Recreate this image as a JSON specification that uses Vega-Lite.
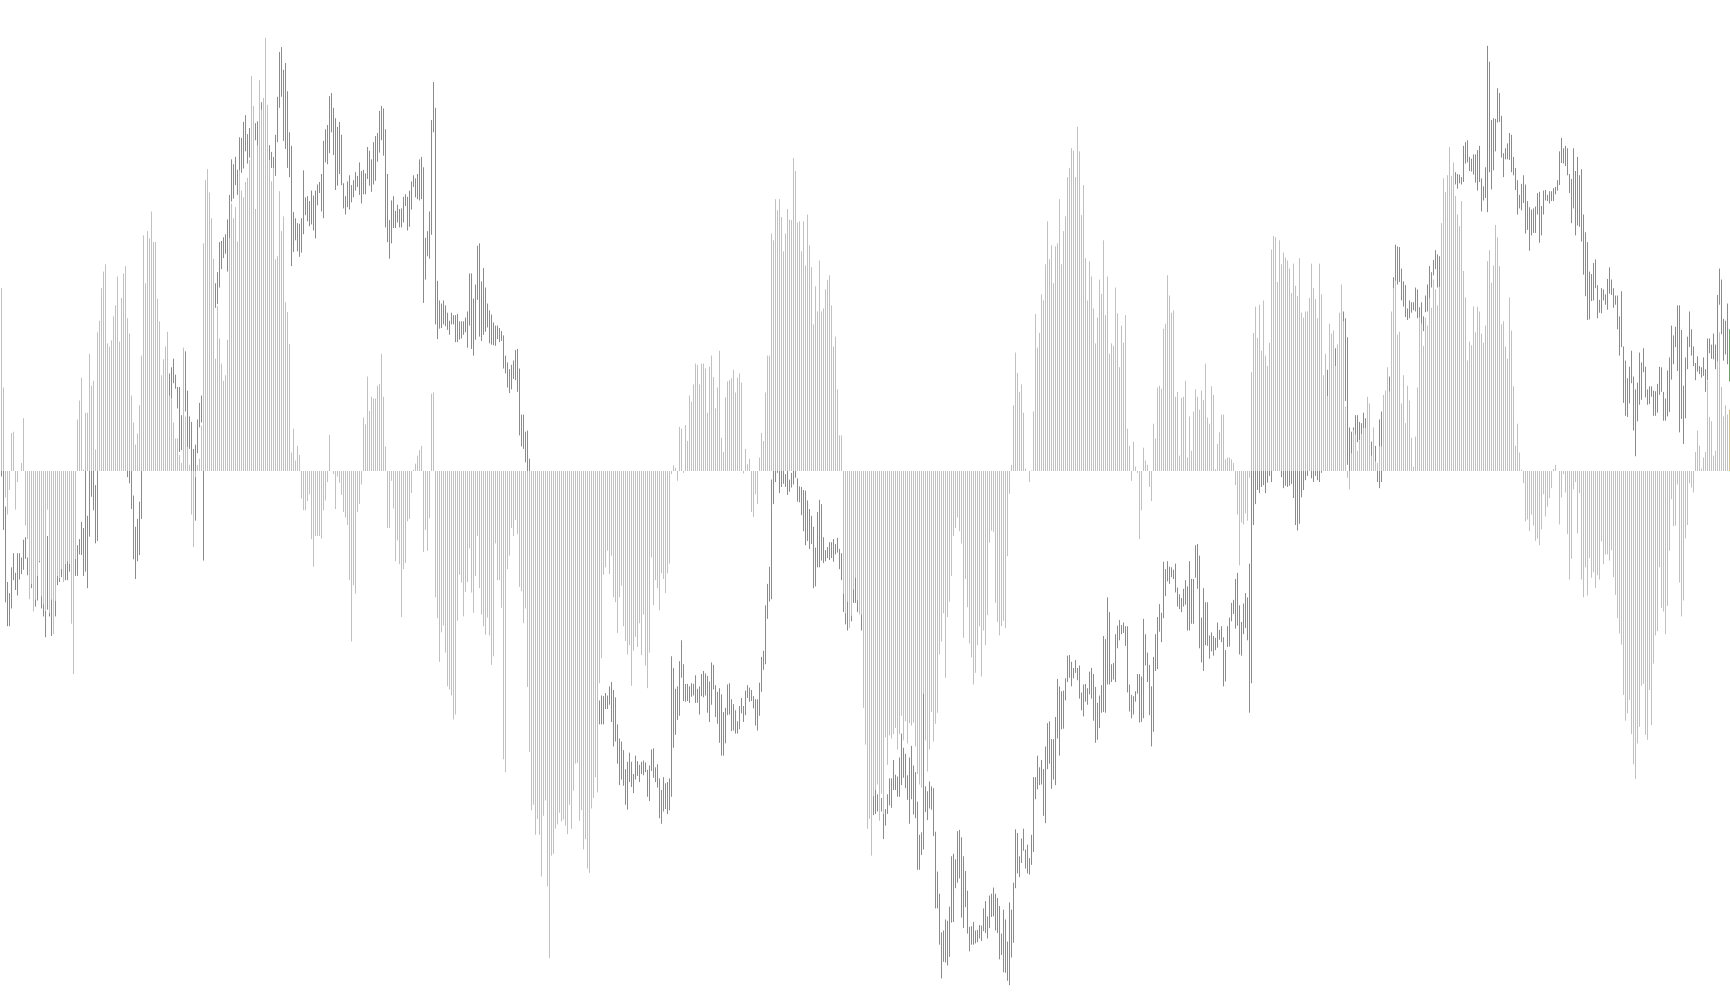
{"$schema":"https://vega.github.io/schema/vega-lite/v6.json","width":1730,"height":1005,"padding":0,"autosize":{"type":"none"},"background":"white","config":{"view":{"stroke":null}},
"data":{"values":[
{"i":0,"h":0,"l":-9,"v":298},{"i":1,"h":0,"l":-96,"v":136},{"i":2,"h":-58,"l":-214,"v":-43},{"i":3,"h":-181,"l":-253,"v":-71},{"i":4,"h":-199,"l":-253,"v":-31},{"i":5,"h":-157,"l":-224,"v":62},{"i":6,"h":-134,"l":-178,"v":64},{"i":7,"h":-166,"l":-194,"v":-63},{"i":8,"h":-134,"l":-203,"v":-18},{"i":9,"h":-134,"l":-177,"v":0},
{"i":10,"h":-141,"l":-168,"v":13},{"i":11,"h":-112,"l":-161,"v":86},{"i":12,"h":-108,"l":-143,"v":-89},{"i":13,"h":-141,"l":-170,"v":-111},{"i":14,"h":-160,"l":-200,"v":-209},{"i":15,"h":-184,"l":-191,"v":-184},{"i":16,"h":-190,"l":-220,"v":-229},{"i":17,"h":-209,"l":-221,"v":-209},{"i":18,"h":-171,"l":-211,"v":-171},{"i":19,"h":-146,"l":-149,"v":-146},
{"i":20,"h":-204,"l":-224,"v":-204},{"i":21,"h":-217,"l":-237,"v":-217},{"i":22,"h":-228,"l":-271,"v":-228},{"i":23,"h":-106,"l":-226,"v":-63},{"i":24,"h":-231,"l":-237,"v":-231},{"i":25,"h":-209,"l":-269,"v":-209},{"i":26,"h":-215,"l":-245,"v":-266},{"i":27,"h":-211,"l":-237,"v":-211},{"i":28,"h":-171,"l":-186,"v":-171},{"i":29,"h":-174,"l":-181,"v":-174},
{"i":30,"h":-159,"l":-173,"v":-159},{"i":31,"h":-160,"l":-175,"v":-181},{"i":32,"h":-151,"l":-178,"v":-151},{"i":33,"h":-147,"l":-178,"v":-147},{"i":34,"h":-151,"l":-164,"v":-151},{"i":35,"h":-150,"l":-165,"v":-249},{"i":36,"h":-150,"l":-170,"v":-331},{"i":37,"h":-143,"l":-171,"v":-143},{"i":38,"h":-121,"l":-171,"v":84},{"i":39,"h":-111,"l":-136,"v":115},
{"i":40,"h":-83,"l":-137,"v":152},{"i":41,"h":-93,"l":-171,"v":2},{"i":42,"h":50,"l":-164,"v":95},{"i":43,"h":-73,"l":-191,"v":95},{"i":44,"h":60,"l":-107,"v":191},{"i":45,"h":40,"l":-42,"v":139},{"i":46,"h":40,"l":-64,"v":147},{"i":47,"h":-23,"l":-118,"v":35},{"i":48,"h":80,"l":-114,"v":226},{"i":49,"h":150,"l":60,"v":245},
{"i":50,"h":160,"l":80,"v":298},{"i":51,"h":150,"l":90,"v":325},{"i":52,"h":170,"l":100,"v":337},{"i":53,"h":170,"l":110,"v":208},{"i":54,"h":150,"l":90,"v":203},{"i":55,"h":140,"l":70,"v":213},{"i":56,"h":150,"l":90,"v":252},{"i":57,"h":130,"l":60,"v":270},{"i":58,"h":120,"l":50,"v":317},{"i":59,"h":110,"l":40,"v":211},
{"i":60,"h":90,"l":20,"v":282},{"i":61,"h":80,"l":10,"v":322},{"i":62,"h":60,"l":0,"v":334},{"i":63,"h":40,"l":-10,"v":249},{"i":64,"h":20,"l":-20,"v":224},{"i":65,"h":5,"l":-62,"v":123},{"i":66,"h":-40,"l":-144,"v":79},{"i":67,"h":-91,"l":-176,"v":43},{"i":68,"h":-78,"l":-147,"v":61},{"i":69,"h":-50,"l":-137,"v":107},
{"i":70,"h":50,"l":-78,"v":188},{"i":71,"h":100,"l":20,"v":384},{"i":72,"h":120,"l":40,"v":306},{"i":73,"h":140,"l":60,"v":391},{"i":74,"h":150,"l":70,"v":379},{"i":75,"h":160,"l":80,"v":423},{"i":76,"h":170,"l":90,"v":373},{"i":77,"h":170,"l":100,"v":373},{"i":78,"h":180,"l":110,"v":281},{"i":79,"h":190,"l":110,"v":244},
{"i":80,"h":150,"l":100,"v":156},{"i":81,"h":170,"l":110,"v":182},{"i":82,"h":190,"l":130,"v":203},{"i":83,"h":220,"l":150,"v":227},{"i":84,"h":159,"l":110,"v":123},{"i":85,"h":169,"l":100,"v":119},{"i":86,"h":183,"l":143,"v":79},{"i":87,"h":157,"l":134,"v":53},{"i":88,"h":137,"l":102,"v":53},{"i":89,"h":137,"l":31,"v":26},
{"i":90,"h":91,"l":34,"v":13},{"i":91,"h":195,"l":150,"v":201},{"i":92,"h":195,"l":97,"v":89},{"i":93,"h":131,"l":25,"v":39},{"i":94,"h":89,"l":36,"v":10},{"i":95,"h":80,"l":-1,"v":-71},{"i":96,"h":36,"l":-1,"v":-124},{"i":97,"h":43,"l":-81,"v":-10},{"i":98,"h":84,"l":29,"v":10},{"i":99,"h":111,"l":71,"v":20},
{"i":100,"h":123,"l":79,"v":74},{"i":101,"h":310,"l":-146,"v":371},{"i":102,"h":330,"l":250,"v":474},{"i":103,"h":340,"l":260,"v":492},{"i":104,"h":320,"l":250,"v":454},{"i":105,"h":330,"l":260,"v":412},{"i":106,"h":320,"l":280,"v":346},{"i":107,"h":306,"l":266,"v":183},{"i":108,"h":324,"l":272,"v":269},{"i":109,"h":373,"l":299,"v":216},
{"i":110,"h":375,"l":329,"v":175},{"i":111,"h":381,"l":347,"v":147},{"i":112,"h":386,"l":354,"v":156},{"i":113,"h":410,"l":325,"v":214},{"i":114,"h":450,"l":372,"v":380},{"i":115,"h":508,"l":439,"v":436},{"i":116,"h":500,"l":444,"v":412},{"i":117,"h":512,"l":466,"v":430},{"i":118,"h":491,"l":450,"v":374},{"i":119,"h":544,"l":486,"v":490},
{"i":120,"h":543,"l":486,"v":457},{"i":121,"h":569,"l":493,"v":446},{"i":122,"h":580,"l":521,"v":471},{"i":123,"h":549,"l":501,"v":478},{"i":124,"h":559,"l":511,"v":507},{"i":125,"h":600,"l":540,"v":644},{"i":126,"h":580,"l":520,"v":595},{"i":127,"h":567,"l":539,"v":427},{"i":128,"h":570,"l":500,"v":531},{"i":129,"h":600,"l":540,"v":637},
{"i":130,"h":601,"l":560,"v":589},{"i":131,"h":600,"l":550,"v":608},{"i":132,"h":620,"l":560,"v":706},{"i":133,"h":560,"l":520,"v":597},{"i":134,"h":531,"l":490,"v":507},{"i":135,"h":520,"l":494,"v":472},{"i":136,"h":512,"l":480,"v":494},{"i":137,"h":548,"l":481,"v":345},{"i":138,"h":610,"l":536,"v":350},{"i":139,"h":683,"l":592,"v":456},
{"i":140,"h":691,"l":610,"v":391},{"i":141,"h":654,"l":538,"v":415},{"i":142,"h":665,"l":525,"v":275},{"i":143,"h":619,"l":494,"v":259},{"i":144,"h":552,"l":479,"v":207},{"i":145,"h":530,"l":334,"v":30},{"i":146,"h":422,"l":357,"v":69},{"i":147,"h":412,"l":376,"v":17},{"i":148,"h":404,"l":358,"v":41},{"i":149,"h":403,"l":349,"v":26},
{"i":150,"h":412,"l":356,"v":-45},{"i":151,"h":490,"l":386,"v":-64},{"i":152,"h":446,"l":417,"v":-64},{"i":153,"h":448,"l":407,"v":-49},{"i":154,"h":440,"l":399,"v":-38},{"i":155,"h":457,"l":402,"v":-111},{"i":156,"h":449,"l":392,"v":-156},{"i":157,"h":457,"l":379,"v":-106},{"i":158,"h":467,"l":433,"v":-106},{"i":159,"h":471,"l":453,"v":-106},
{"i":160,"h":484,"l":423,"v":-110},{"i":161,"h":538,"l":412,"v":-64},{"i":162,"h":557,"l":503,"v":-48},{"i":163,"h":564,"l":500,"v":-18},{"i":164,"h":611,"l":518,"v":59},{"i":165,"h":616,"l":552,"v":0},{"i":166,"h":592,"l":515,"v":-5},{"i":167,"h":575,"l":458,"v":-62},{"i":168,"h":561,"l":465,"v":-9},{"i":169,"h":569,"l":484,"v":-19},
{"i":170,"h":548,"l":466,"v":-39},{"i":171,"h":469,"l":428,"v":-67},{"i":172,"h":448,"l":418,"v":-76},{"i":173,"h":472,"l":430,"v":-88},{"i":174,"h":482,"l":426,"v":-178},{"i":175,"h":466,"l":438,"v":-278},{"i":176,"h":474,"l":446,"v":-186},{"i":177,"h":487,"l":457,"v":-200},{"i":178,"h":481,"l":463,"v":-67},{"i":179,"h":503,"l":450,"v":-54},
{"i":180,"h":489,"l":436,"v":-22},{"i":181,"h":491,"l":451,"v":87},{"i":182,"h":485,"l":451,"v":76},{"i":183,"h":528,"l":476,"v":154},{"i":184,"h":522,"l":465,"v":98},{"i":185,"h":508,"l":455,"v":121},{"i":186,"h":536,"l":467,"v":118},{"i":187,"h":546,"l":473,"v":118},{"i":188,"h":551,"l":504,"v":139},{"i":189,"h":587,"l":519,"v":142},
{"i":190,"h":595,"l":539,"v":191},{"i":191,"h":591,"l":514,"v":121},{"i":192,"h":557,"l":397,"v":40},{"i":193,"h":484,"l":373,"v":-93},{"i":194,"h":409,"l":346,"v":-93},{"i":195,"h":441,"l":371,"v":-16},{"i":196,"h":448,"l":396,"v":-61},{"i":197,"h":424,"l":396,"v":-147},{"i":198,"h":434,"l":405,"v":-113},{"i":199,"h":427,"l":397,"v":-152},
{"i":200,"h":428,"l":397,"v":-238},{"i":201,"h":447,"l":405,"v":-160},{"i":202,"h":451,"l":432,"v":-150},{"i":203,"h":447,"l":392,"v":-82},{"i":204,"h":457,"l":398,"v":-78},{"i":205,"h":472,"l":426,"v":-36},{"i":206,"h":482,"l":463,"v":2},{"i":207,"h":477,"l":446,"v":12},{"i":208,"h":484,"l":443,"v":25},{"i":209,"h":508,"l":441,"v":34},
{"i":210,"h":512,"l":443,"v":41},{"i":211,"h":495,"l":274,"v":-132},{"i":212,"h":380,"l":312,"v":-96},{"i":213,"h":391,"l":350,"v":-130},{"i":214,"h":423,"l":346,"v":-77},{"i":215,"h":572,"l":385,"v":126},{"i":216,"h":634,"l":552,"v":128},{"i":217,"h":592,"l":239,"v":-206},{"i":218,"h":310,"l":215,"v":-240},{"i":219,"h":278,"l":232,"v":-311},
{"i":220,"h":273,"l":233,"v":-263},{"i":221,"h":278,"l":239,"v":-252},{"i":222,"h":270,"l":236,"v":-296},{"i":223,"h":258,"l":230,"v":-351},{"i":224,"h":245,"l":222,"v":-356},{"i":225,"h":258,"l":239,"v":-366},{"i":226,"h":254,"l":239,"v":-405},{"i":227,"h":254,"l":210,"v":-397},{"i":228,"h":256,"l":210,"v":-244},{"i":229,"h":244,"l":214,"v":-169},
{"i":230,"h":244,"l":216,"v":-182},{"i":231,"h":244,"l":222,"v":-237},{"i":232,"h":250,"l":226,"v":-197},{"i":233,"h":260,"l":201,"v":-181},{"i":234,"h":322,"l":237,"v":-126},{"i":235,"h":322,"l":199,"v":-198},{"i":236,"h":281,"l":188,"v":-231},{"i":237,"h":304,"l":214,"v":-171},{"i":238,"h":367,"l":279,"v":-106},{"i":239,"h":371,"l":219,"v":-191},
{"i":240,"h":309,"l":212,"v":-234},{"i":241,"h":331,"l":222,"v":-253},{"i":242,"h":299,"l":227,"v":-267},{"i":243,"h":273,"l":234,"v":-239},{"i":244,"h":262,"l":208,"v":-268},{"i":245,"h":255,"l":206,"v":-316},{"i":246,"h":242,"l":205,"v":-302},{"i":247,"h":237,"l":204,"v":-118},{"i":248,"h":237,"l":215,"v":-178},{"i":249,"h":233,"l":210,"v":-178},
{"i":250,"h":228,"l":212,"v":-223},{"i":251,"h":221,"l":167,"v":-470},{"i":252,"h":188,"l":159,"v":-491},{"i":253,"h":177,"l":136,"v":-160},{"i":254,"h":166,"l":127,"v":-138},{"i":255,"h":173,"l":133,"v":-93},{"i":256,"h":180,"l":150,"v":-106},{"i":257,"h":197,"l":148,"v":-80},{"i":258,"h":199,"l":129,"v":-103},{"i":259,"h":167,"l":58,"v":-189},
{"i":260,"h":92,"l":40,"v":-196},{"i":261,"h":92,"l":36,"v":-248},{"i":262,"h":64,"l":14,"v":-224},{"i":263,"h":66,"l":-20,"v":-352},{"i":264,"h":20,"l":-40,"v":-458},{"i":265,"h":-10,"l":-70,"v":-553},{"i":266,"h":-30,"l":-90,"v":-544},{"i":267,"h":-40,"l":-110,"v":-593},{"i":268,"h":-60,"l":-120,"v":-567},{"i":269,"h":-70,"l":-140,"v":-593},
{"i":270,"h":-90,"l":-160,"v":-661},{"i":271,"h":-100,"l":-170,"v":-562},{"i":272,"h":-120,"l":-190,"v":-537},{"i":273,"h":-130,"l":-200,"v":-677},{"i":274,"h":-150,"l":-220,"v":-794},{"i":275,"h":-160,"l":-230,"v":-627},{"i":276,"h":-170,"l":-240,"v":-624},{"i":277,"h":-180,"l":-250,"v":-583},{"i":278,"h":-190,"l":-260,"v":-576},{"i":279,"h":-200,"l":-270,"v":-557},
{"i":280,"h":-210,"l":-280,"v":-571},{"i":281,"h":-215,"l":-290,"v":-568},{"i":282,"h":-225,"l":-300,"v":-578},{"i":283,"h":-235,"l":-310,"v":-592},{"i":284,"h":-240,"l":-320,"v":-544},{"i":285,"h":-250,"l":-330,"v":-583},{"i":286,"h":-255,"l":-335,"v":-521},{"i":287,"h":-265,"l":-345,"v":-477},{"i":288,"h":-270,"l":-350,"v":-476},{"i":289,"h":-280,"l":-360,"v":-570},
{"i":290,"h":-285,"l":-365,"v":-553},{"i":291,"h":-290,"l":-370,"v":-617},{"i":292,"h":-300,"l":-380,"v":-600},{"i":293,"h":-305,"l":-385,"v":-648},{"i":294,"h":-310,"l":-390,"v":-655},{"i":295,"h":-315,"l":-395,"v":-550},{"i":296,"h":-320,"l":-400,"v":-533},{"i":297,"h":-330,"l":-410,"v":-499},{"i":298,"h":-335,"l":-415,"v":-524},{"i":299,"h":-374,"l":-413,"v":-346},
{"i":300,"h":-366,"l":-413,"v":-305},{"i":301,"h":-367,"l":-413,"v":-169},{"i":302,"h":-362,"l":-388,"v":-157},{"i":303,"h":-366,"l":-388,"v":-130},{"i":304,"h":-351,"l":-381,"v":-168},{"i":305,"h":-344,"l":-409,"v":-138},{"i":306,"h":-357,"l":-449,"v":-206},{"i":307,"h":-369,"l":-441,"v":-214},{"i":308,"h":-413,"l":-477,"v":-264},{"i":309,"h":-436,"l":-512,"v":-206},
{"i":310,"h":-441,"l":-503,"v":-187},{"i":311,"h":-455,"l":-513,"v":-253},{"i":312,"h":-486,"l":-544,"v":-277},{"i":313,"h":-474,"l":-552,"v":-299},{"i":314,"h":-459,"l":-507,"v":-284},{"i":315,"h":-474,"l":-515,"v":-350},{"i":316,"h":-494,"l":-525,"v":-293},{"i":317,"h":-464,"l":-503,"v":-270},{"i":318,"h":-473,"l":-497,"v":-287},{"i":319,"h":-479,"l":-507,"v":-248},
{"i":320,"h":-474,"l":-494,"v":-300},{"i":321,"h":-472,"l":-496,"v":-234},{"i":322,"h":-475,"l":-491,"v":-317},{"i":323,"h":-487,"l":-531,"v":-354},{"i":324,"h":-480,"l":-538,"v":-296},{"i":325,"h":-454,"l":-489,"v":-141},{"i":326,"h":-452,"l":-500,"v":-219},{"i":327,"h":-483,"l":-507,"v":-178},{"i":328,"h":-478,"l":-516,"v":-191},{"i":329,"h":-501,"l":-566,"v":-227},
{"i":330,"h":-520,"l":-575,"v":-167},{"i":331,"h":-499,"l":-555,"v":-176},{"i":332,"h":-509,"l":-551,"v":-199},{"i":333,"h":-507,"l":-559,"v":-167},{"i":334,"h":-501,"l":-553,"v":-151},{"i":335,"h":-302,"l":-531,"v":-5},{"i":336,"h":-321,"l":-451,"v":9},{"i":337,"h":-355,"l":-430,"v":5},{"i":338,"h":-351,"l":-406,"v":-16},{"i":339,"h":-310,"l":-399,"v":72},
{"i":340,"h":-276,"l":-337,"v":69},{"i":341,"h":-315,"l":-375,"v":-3},{"i":342,"h":-347,"l":-376,"v":75},{"i":343,"h":-347,"l":-375,"v":49},{"i":344,"h":-351,"l":-378,"v":123},{"i":345,"h":-346,"l":-368,"v":113},{"i":346,"h":-347,"l":-366,"v":141},{"i":347,"h":-333,"l":-378,"v":175},{"i":348,"h":-355,"l":-378,"v":173},{"i":349,"h":-351,"l":-397,"v":141},
{"i":350,"h":-331,"l":-367,"v":175},{"i":351,"h":-326,"l":-369,"v":175},{"i":352,"h":-330,"l":-366,"v":167},{"i":353,"h":-334,"l":-394,"v":95},{"i":354,"h":-343,"l":-409,"v":170},{"i":355,"h":-312,"l":-381,"v":188},{"i":356,"h":-316,"l":-356,"v":153},{"i":357,"h":-349,"l":-401,"v":102},{"i":358,"h":-360,"l":-412,"v":136},{"i":359,"h":-354,"l":-443,"v":196},
{"i":360,"h":-364,"l":-464,"v":54},{"i":361,"h":-393,"l":-464,"v":31},{"i":362,"h":-386,"l":-444,"v":120},{"i":363,"h":-348,"l":-398,"v":146},{"i":364,"h":-346,"l":-397,"v":148},{"i":365,"h":-372,"l":-424,"v":151},{"i":366,"h":-380,"l":-423,"v":165},{"i":367,"h":-390,"l":-428,"v":128},{"i":368,"h":-408,"l":-428,"v":152},{"i":369,"h":-383,"l":-421,"v":159},
{"i":370,"h":-370,"l":-395,"v":144},{"i":371,"h":-383,"l":-409,"v":-4},{"i":372,"h":-358,"l":-398,"v":36},{"i":373,"h":-349,"l":-370,"v":11},{"i":374,"h":-353,"l":-376,"v":20},{"i":375,"h":-357,"l":-375,"v":-67},{"i":376,"h":-367,"l":-387,"v":-75},{"i":377,"h":-372,"l":-415,"v":-38},{"i":378,"h":-372,"l":-423,"v":-54},{"i":379,"h":-345,"l":-399,"v":22},
{"i":380,"h":-303,"l":-360,"v":62},{"i":381,"h":-293,"l":-324,"v":49},{"i":382,"h":-219,"l":-315,"v":128},{"i":383,"h":-184,"l":-241,"v":188},{"i":384,"h":-156,"l":-213,"v":188},{"i":385,"h":-14,"l":-209,"v":387},{"i":386,"h":10,"l":-54,"v":376},{"i":387,"h":20,"l":-18,"v":443},{"i":388,"h":30,"l":-3,"v":425},{"i":389,"h":20,"l":-36,"v":443},
{"i":390,"h":15,"l":-26,"v":414},{"i":391,"h":10,"l":-21,"v":358},{"i":392,"h":-5,"l":-26,"v":387},{"i":393,"h":10,"l":-39,"v":427},{"i":394,"h":-14,"l":-34,"v":410},{"i":395,"h":-3,"l":-27,"v":409},{"i":396,"h":10,"l":-22,"v":510},{"i":397,"h":15,"l":-11,"v":489},{"i":398,"h":-12,"l":-50,"v":405},{"i":399,"h":-25,"l":-51,"v":407},
{"i":400,"h":-26,"l":-72,"v":358},{"i":401,"h":-31,"l":-98,"v":407},{"i":402,"h":-32,"l":-121,"v":335},{"i":403,"h":-48,"l":-114,"v":418},{"i":404,"h":-62,"l":-127,"v":368},{"i":405,"h":-73,"l":-119,"v":332},{"i":406,"h":-91,"l":-191,"v":239},{"i":407,"h":-125,"l":-188,"v":301},{"i":408,"h":-67,"l":-157,"v":260},{"i":409,"h":-47,"l":-157,"v":343},
{"i":410,"h":-54,"l":-146,"v":260},{"i":411,"h":-108,"l":-150,"v":265},{"i":412,"h":-129,"l":-147,"v":296},{"i":413,"h":-124,"l":-142,"v":311},{"i":414,"h":-116,"l":-145,"v":319},{"i":415,"h":-116,"l":-142,"v":270},{"i":416,"h":-111,"l":-148,"v":203},{"i":417,"h":-119,"l":-136,"v":219},{"i":418,"h":-109,"l":-133,"v":133},{"i":419,"h":-127,"l":-160,"v":58},
{"i":420,"h":-134,"l":-178,"v":58},{"i":421,"h":-150,"l":-230,"v":-200},{"i":422,"h":-170,"l":-250,"v":-232},{"i":423,"h":-190,"l":-260,"v":-213},{"i":424,"h":-200,"l":-250,"v":-256},{"i":425,"h":-191,"l":-245,"v":-236},{"i":426,"h":-134,"l":-215,"v":-193},{"i":427,"h":-169,"l":-215,"v":-174},{"i":428,"h":-169,"l":-230,"v":-211},{"i":429,"h":-174,"l":-215,"v":-234},
{"i":430,"h":-200,"l":-260,"v":-234},{"i":431,"h":-230,"l":-300,"v":-386},{"i":432,"h":-280,"l":-380,"v":-446},{"i":433,"h":-350,"l":-450,"v":-583},{"i":434,"h":-420,"l":-520,"v":-567},{"i":435,"h":-450,"l":-560,"v":-627},{"i":436,"h":-506,"l":-561,"v":-530},{"i":437,"h":-506,"l":-559,"v":-520},{"i":438,"h":-527,"l":-555,"v":-511},{"i":439,"h":-520,"l":-560,"v":-570},
{"i":440,"h":-533,"l":-555,"v":-526},{"i":441,"h":-559,"l":-600,"v":-559},{"i":442,"h":-551,"l":-578,"v":-434},{"i":443,"h":-527,"l":-559,"v":-479},{"i":444,"h":-501,"l":-545,"v":-431},{"i":445,"h":-501,"l":-549,"v":-436},{"i":446,"h":-471,"l":-520,"v":-429},{"i":447,"h":-495,"l":-520,"v":-419},{"i":448,"h":-498,"l":-531,"v":-454},{"i":449,"h":-467,"l":-531,"v":-429},
{"i":450,"h":-428,"l":-512,"v":-399},{"i":451,"h":-451,"l":-500,"v":-439},{"i":452,"h":-461,"l":-517,"v":-408},{"i":453,"h":-496,"l":-536,"v":-444},{"i":454,"h":-467,"l":-575,"v":-411},{"i":455,"h":-448,"l":-535,"v":-415},{"i":456,"h":-480,"l":-560,"v":-410},{"i":457,"h":-491,"l":-566,"v":-449},{"i":458,"h":-539,"l":-650,"v":-494},{"i":459,"h":-593,"l":-650,"v":-511},
{"i":460,"h":-589,"l":-626,"v":-516},{"i":461,"h":-361,"l":-617,"v":-363},{"i":462,"h":-514,"l":-556,"v":-439},{"i":463,"h":-522,"l":-569,"v":-490},{"i":464,"h":-506,"l":-550,"v":-454},{"i":465,"h":-514,"l":-552,"v":-393},{"i":466,"h":-517,"l":-595,"v":-441},{"i":467,"h":-588,"l":-713,"v":-412},{"i":468,"h":-653,"l":-713,"v":-394},{"i":469,"h":-689,"l":-772,"v":-299},
{"i":470,"h":-752,"l":-827,"v":-278},{"i":471,"h":-749,"l":-800,"v":-232},{"i":472,"h":-731,"l":-801,"v":-337},{"i":473,"h":-733,"l":-806,"v":-238},{"i":474,"h":-710,"l":-792,"v":-213},{"i":475,"h":-628,"l":-736,"v":-171},{"i":476,"h":-624,"l":-735,"v":-106},{"i":477,"h":-633,"l":-680,"v":-93},{"i":478,"h":-587,"l":-671,"v":-76},{"i":479,"h":-585,"l":-664,"v":-98},
{"i":480,"h":-597,"l":-728,"v":-118},{"i":481,"h":-628,"l":-745,"v":-272},{"i":482,"h":-652,"l":-711,"v":-176},{"i":483,"h":-684,"l":-754,"v":-222},{"i":484,"h":-743,"l":-783,"v":-281},{"i":485,"h":-742,"l":-772,"v":-304},{"i":486,"h":-735,"l":-772,"v":-348},{"i":487,"h":-749,"l":-770,"v":-329},{"i":488,"h":-748,"l":-768,"v":-284},{"i":489,"h":-740,"l":-762,"v":-253},
{"i":490,"h":-741,"l":-766,"v":-335},{"i":491,"h":-713,"l":-750,"v":-260},{"i":492,"h":-701,"l":-753,"v":-284},{"i":493,"h":-726,"l":-762,"v":-235},{"i":494,"h":-692,"l":-745,"v":-117},{"i":495,"h":-689,"l":-727,"v":-97},{"i":496,"h":-679,"l":-726,"v":-99},{"i":497,"h":-689,"l":-749,"v":-215},{"i":498,"h":-696,"l":-753,"v":-246},{"i":499,"h":-709,"l":-796,"v":-268},
{"i":500,"h":-754,"l":-789,"v":-253},{"i":501,"h":-715,"l":-817,"v":-244},{"i":502,"h":-731,"l":-818,"v":-256},{"i":503,"h":-767,"l":-831,"v":-139},{"i":504,"h":-703,"l":-838,"v":-37},{"i":505,"h":-715,"l":-793,"v":10},{"i":506,"h":-671,"l":-769,"v":107},{"i":507,"h":-584,"l":-680,"v":193},{"i":508,"h":-590,"l":-656,"v":160},{"i":509,"h":-628,"l":-662,"v":129},
{"i":510,"h":-599,"l":-639,"v":141},{"i":511,"h":-583,"l":-619,"v":95},{"i":512,"h":-617,"l":-648,"v":4},{"i":513,"h":-609,"l":-656,"v":0},{"i":514,"h":-631,"l":-658,"v":-18},{"i":515,"h":-593,"l":-642,"v":1},{"i":516,"h":-499,"l":-621,"v":97},{"i":517,"h":-499,"l":-535,"v":256},{"i":518,"h":-464,"l":-519,"v":201},{"i":519,"h":-483,"l":-512,"v":225},
{"i":520,"h":-471,"l":-511,"v":288},{"i":521,"h":-486,"l":-562,"v":278},{"i":522,"h":-449,"l":-574,"v":337},{"i":523,"h":-411,"l":-486,"v":407},{"i":524,"h":-408,"l":-477,"v":345},{"i":525,"h":-437,"l":-518,"v":368},{"i":526,"h":-437,"l":-503,"v":306},{"i":527,"h":-401,"l":-512,"v":366},{"i":528,"h":-339,"l":-436,"v":371},{"i":529,"h":-351,"l":-464,"v":443},
{"i":530,"h":-359,"l":-421,"v":337},{"i":531,"h":-358,"l":-420,"v":391},{"i":532,"h":-338,"l":-374,"v":415},{"i":533,"h":-301,"l":-344,"v":479},{"i":534,"h":-300,"l":-337,"v":494},{"i":535,"h":-311,"l":-351,"v":526},{"i":536,"h":-321,"l":-338,"v":522},{"i":537,"h":-308,"l":-329,"v":479},{"i":538,"h":-321,"l":-341,"v":561},{"i":539,"h":-317,"l":-371,"v":521},
{"i":540,"h":-361,"l":-390,"v":417},{"i":541,"h":-348,"l":-400,"v":466},{"i":542,"h":-347,"l":-376,"v":347},{"i":543,"h":-354,"l":-381,"v":278},{"i":544,"h":-327,"l":-364,"v":342},{"i":545,"h":-321,"l":-371,"v":317},{"i":546,"h":-331,"l":-407,"v":265},{"i":547,"h":-352,"l":-443,"v":208},{"i":548,"h":-378,"l":-438,"v":250},{"i":549,"h":-366,"l":-419,"v":312},
{"i":550,"h":-349,"l":-394,"v":289},{"i":551,"h":-269,"l":-393,"v":376},{"i":552,"h":-274,"l":-394,"v":254},{"i":553,"h":-206,"l":-348,"v":317},{"i":554,"h":-230,"l":-348,"v":191},{"i":555,"h":-315,"l":-344,"v":208},{"i":556,"h":-313,"l":-340,"v":204},{"i":557,"h":-266,"l":-344,"v":299},{"i":558,"h":-252,"l":-289,"v":257},{"i":559,"h":-243,"l":-276,"v":169},
{"i":560,"h":-251,"l":-266,"v":237},{"i":561,"h":-247,"l":-264,"v":209},{"i":562,"h":-253,"l":-285,"v":254},{"i":563,"h":-253,"l":-361,"v":69},{"i":564,"h":-348,"l":-392,"v":41},{"i":565,"h":-365,"l":-403,"v":-16},{"i":566,"h":-367,"l":-397,"v":48},{"i":567,"h":-359,"l":-376,"v":7},{"i":568,"h":-331,"l":-363,"v":-3},{"i":569,"h":-331,"l":-410,"v":-111},
{"i":570,"h":-335,"l":-409,"v":-64},{"i":571,"h":-241,"l":-403,"v":38},{"i":572,"h":-266,"l":-317,"v":17},{"i":573,"h":-296,"l":-344,"v":10},{"i":574,"h":-316,"l":-398,"v":-26},{"i":575,"h":-351,"l":-449,"v":-49},{"i":576,"h":-303,"l":-425,"v":77},{"i":577,"h":-266,"l":-326,"v":53},{"i":578,"h":-238,"l":-323,"v":136},{"i":579,"h":-217,"l":-262,"v":139},
{"i":580,"h":-231,"l":-279,"v":134},{"i":581,"h":-148,"l":-240,"v":232},{"i":582,"h":-160,"l":-204,"v":240},{"i":583,"h":-147,"l":-180,"v":319},{"i":584,"h":-156,"l":-184,"v":286},{"i":585,"h":-157,"l":-173,"v":258},{"i":586,"h":-161,"l":-176,"v":262},{"i":587,"h":-151,"l":-198,"v":121},{"i":588,"h":-190,"l":-221,"v":129},{"i":589,"h":-201,"l":-225,"v":25},
{"i":590,"h":-207,"l":-230,"v":119},{"i":591,"h":-192,"l":-221,"v":121},{"i":592,"h":-178,"l":-218,"v":147},{"i":593,"h":-188,"l":-260,"v":22},{"i":594,"h":-147,"l":-260,"v":89},{"i":595,"h":-176,"l":-249,"v":33},{"i":596,"h":-176,"l":-249,"v":97},{"i":597,"h":-121,"l":-174,"v":133},{"i":598,"h":-119,"l":-192,"v":121},{"i":599,"h":-138,"l":-289,"v":100},
{"i":600,"h":-239,"l":-312,"v":131},{"i":601,"h":-191,"l":-326,"v":116},{"i":602,"h":-214,"l":-284,"v":175},{"i":603,"h":-214,"l":-285,"v":87},{"i":604,"h":-268,"l":-306,"v":77},{"i":605,"h":-263,"l":-294,"v":138},{"i":606,"h":-269,"l":-301,"v":124},{"i":607,"h":-272,"l":-292,"v":3},{"i":608,"h":-247,"l":-288,"v":44},{"i":609,"h":-259,"l":-275,"v":63},
{"i":610,"h":-253,"l":-279,"v":92},{"i":611,"h":-271,"l":-351,"v":92},{"i":612,"h":-292,"l":-343,"v":19},{"i":613,"h":-253,"l":-287,"v":22},{"i":614,"h":-239,"l":-286,"v":22},{"i":615,"h":-215,"l":-245,"v":19},{"i":616,"h":-210,"l":-233,"v":13},{"i":617,"h":-176,"l":-257,"v":-23},{"i":618,"h":-166,"l":-252,"v":-71},{"i":619,"h":-219,"l":-299,"v":-154},
{"i":620,"h":-246,"l":-301,"v":-84},{"i":621,"h":-216,"l":-266,"v":-87},{"i":622,"h":-199,"l":-256,"v":-69},{"i":623,"h":-206,"l":-276,"v":-81},{"i":624,"h":-151,"l":-394,"v":-11},{"i":625,"h":60,"l":-346,"v":161},{"i":626,"h":80,"l":-88,"v":225},{"i":627,"h":100,"l":-54,"v":268},{"i":628,"h":90,"l":-31,"v":217},{"i":629,"h":80,"l":-36,"v":271},
{"i":630,"h":70,"l":-26,"v":196},{"i":631,"h":60,"l":-23,"v":278},{"i":632,"h":50,"l":-36,"v":188},{"i":633,"h":60,"l":-19,"v":171},{"i":634,"h":70,"l":-8,"v":209},{"i":635,"h":60,"l":-18,"v":361},{"i":636,"h":80,"l":10,"v":383},{"i":637,"h":90,"l":20,"v":381},{"i":638,"h":80,"l":10,"v":308},{"i":639,"h":70,"l":0,"v":376},
{"i":640,"h":60,"l":-10,"v":337},{"i":641,"h":50,"l":-28,"v":356},{"i":642,"h":40,"l":-24,"v":348},{"i":643,"h":40,"l":-26,"v":343},{"i":644,"h":30,"l":-24,"v":330},{"i":645,"h":30,"l":-21,"v":290},{"i":646,"h":20,"l":-44,"v":338},{"i":647,"h":10,"l":-88,"v":302},{"i":648,"h":0,"l":-97,"v":285},{"i":649,"h":0,"l":-86,"v":347},
{"i":650,"h":10,"l":-43,"v":258},{"i":651,"h":15,"l":-31,"v":250},{"i":652,"h":20,"l":-15,"v":260},{"i":653,"h":20,"l":-8,"v":260},{"i":654,"h":30,"l":5,"v":282},{"i":655,"h":25,"l":-12,"v":338},{"i":656,"h":20,"l":-18,"v":298},{"i":657,"h":20,"l":-8,"v":280},{"i":658,"h":15,"l":-15,"v":249},{"i":659,"h":10,"l":-18,"v":338},
{"i":660,"h":20,"l":-3,"v":288},{"i":661,"h":60,"l":10,"v":156},{"i":662,"h":80,"l":20,"v":191},{"i":663,"h":165,"l":121,"v":122},{"i":664,"h":140,"l":90,"v":240},{"i":665,"h":150,"l":100,"v":224},{"i":666,"h":160,"l":110,"v":229},{"i":667,"h":200,"l":171,"v":171},{"i":668,"h":200,"l":150,"v":206},{"i":669,"h":230,"l":180,"v":258},
{"i":670,"h":240,"l":190,"v":304},{"i":671,"h":260,"l":239,"v":244},{"i":672,"h":249,"l":114,"v":105},{"i":673,"h":218,"l":10,"v":-11},{"i":674,"h":71,"l":-5,"v":-30},{"i":675,"h":64,"l":22,"v":29},{"i":676,"h":71,"l":49,"v":67},{"i":677,"h":91,"l":59,"v":59},{"i":678,"h":91,"l":47,"v":33},{"i":679,"h":80,"l":50,"v":50},
{"i":680,"h":78,"l":60,"v":60},{"i":681,"h":95,"l":70,"v":70},{"i":682,"h":86,"l":69,"v":69},{"i":683,"h":100,"l":70,"v":121},{"i":684,"h":90,"l":60,"v":110},{"i":685,"h":48,"l":22,"v":25},{"i":686,"h":60,"l":20,"v":71},{"i":687,"h":41,"l":15,"v":15},{"i":688,"h":13,"l":-18,"v":13},{"i":689,"h":84,"l":-28,"v":40},
{"i":690,"h":97,"l":-18,"v":40},{"i":691,"h":110,"l":60,"v":124},{"i":692,"h":130,"l":80,"v":131},{"i":693,"h":150,"l":100,"v":169},{"i":694,"h":154,"l":129,"v":129},{"i":695,"h":230,"l":180,"v":260},{"i":696,"h":316,"l":296,"v":298},{"i":697,"h":369,"l":304,"v":310},{"i":698,"h":366,"l":304,"v":222},{"i":699,"h":365,"l":308,"v":227},
{"i":700,"h":330,"l":278,"v":110},{"i":701,"h":309,"l":268,"v":156},{"i":702,"h":303,"l":251,"v":78},{"i":703,"h":265,"l":246,"v":139},{"i":704,"h":278,"l":249,"v":115},{"i":705,"h":275,"l":258,"v":54},{"i":706,"h":275,"l":262,"v":7},{"i":707,"h":299,"l":260,"v":56},{"i":708,"h":296,"l":249,"v":136},{"i":709,"h":267,"l":251,"v":251},
{"i":710,"h":275,"l":240,"v":240},{"i":711,"h":252,"l":228,"v":204},{"i":712,"h":286,"l":259,"v":250},{"i":713,"h":304,"l":260,"v":237},{"i":714,"h":334,"l":281,"v":281},{"i":715,"h":324,"l":299,"v":266},{"i":716,"h":344,"l":319,"v":312},{"i":717,"h":360,"l":329,"v":296},{"i":718,"h":353,"l":299,"v":270},{"i":719,"h":350,"l":300,"v":300},
{"i":720,"h":400,"l":350,"v":404},{"i":721,"h":440,"l":380,"v":477},{"i":722,"h":454,"l":390,"v":454},{"i":723,"h":470,"l":420,"v":482},{"i":724,"h":480,"l":440,"v":528},{"i":725,"h":480,"l":460,"v":481},{"i":726,"h":485,"l":465,"v":503},{"i":727,"h":487,"l":467,"v":448},{"i":728,"h":484,"l":460,"v":418},{"i":729,"h":483,"l":469,"v":399},
{"i":730,"h":479,"l":467,"v":440},{"i":731,"h":530,"l":471,"v":326},{"i":732,"h":536,"l":501,"v":283},{"i":733,"h":539,"l":503,"v":180},{"i":734,"h":512,"l":489,"v":211},{"i":735,"h":509,"l":488,"v":205},{"i":736,"h":516,"l":483,"v":268},{"i":737,"h":516,"l":470,"v":226},{"i":738,"h":523,"l":457,"v":268},{"i":739,"h":530,"l":471,"v":260},
{"i":740,"h":477,"l":423,"v":224},{"i":741,"h":464,"l":441,"v":209},{"i":742,"h":495,"l":445,"v":237},{"i":743,"h":693,"l":422,"v":342},{"i":744,"h":667,"l":487,"v":360},{"i":745,"h":572,"l":459,"v":307},{"i":746,"h":575,"l":490,"v":335},{"i":747,"h":574,"l":521,"v":401},{"i":748,"h":624,"l":568,"v":381},{"i":749,"h":616,"l":569,"v":334},
{"i":750,"h":579,"l":511,"v":239},{"i":751,"h":518,"l":479,"v":244},{"i":752,"h":526,"l":508,"v":203},{"i":753,"h":534,"l":508,"v":183},{"i":754,"h":551,"l":507,"v":283},{"i":755,"h":548,"l":487,"v":229},{"i":756,"h":512,"l":482,"v":138},{"i":757,"h":494,"l":458,"v":41},{"i":758,"h":474,"l":418,"v":77},{"i":759,"h":450,"l":428,"v":30},
{"i":760,"h":468,"l":425,"v":2},{"i":761,"h":482,"l":437,"v":-20},{"i":762,"h":467,"l":387,"v":-82},{"i":763,"h":440,"l":393,"v":-79},{"i":764,"h":430,"l":359,"v":-98},{"i":765,"h":426,"l":384,"v":-71},{"i":766,"h":428,"l":388,"v":-89},{"i":767,"h":431,"l":388,"v":-114},{"i":768,"h":453,"l":418,"v":-110},{"i":769,"h":455,"l":372,"v":-121},
{"i":770,"h":432,"l":384,"v":-95},{"i":771,"h":457,"l":418,"v":-38},{"i":772,"h":458,"l":441,"v":-74},{"i":773,"h":450,"l":440,"v":-58},{"i":774,"h":456,"l":436,"v":-44},{"i":775,"h":456,"l":440,"v":-28},{"i":776,"h":461,"l":440,"v":3},{"i":777,"h":463,"l":451,"v":10},{"i":778,"h":474,"l":457,"v":0},{"i":779,"h":521,"l":466,"v":-87},
{"i":780,"h":543,"l":502,"v":-43},{"i":781,"h":526,"l":501,"v":-5},{"i":782,"h":530,"l":497,"v":-35},{"i":783,"h":526,"l":482,"v":-103},{"i":784,"h":484,"l":453,"v":-177},{"i":785,"h":476,"l":404,"v":-143},{"i":786,"h":526,"l":428,"v":-30},{"i":787,"h":489,"l":384,"v":-18},{"i":788,"h":512,"l":400,"v":-102},{"i":789,"h":482,"l":398,"v":-36},
{"i":790,"h":492,"l":374,"v":-177},{"i":791,"h":418,"l":320,"v":-206},{"i":792,"h":389,"l":285,"v":-157},{"i":793,"h":373,"l":246,"v":-203},{"i":794,"h":325,"l":247,"v":-142},{"i":795,"h":321,"l":277,"v":-174},{"i":796,"h":339,"l":278,"v":-165},{"i":797,"h":345,"l":298,"v":-191},{"i":798,"h":303,"l":249,"v":-170},{"i":799,"h":279,"l":258,"v":-177},
{"i":800,"h":298,"l":257,"v":-115},{"i":801,"h":296,"l":278,"v":-152},{"i":802,"h":288,"l":271,"v":-136},{"i":803,"h":313,"l":263,"v":-136},{"i":804,"h":332,"l":289,"v":-146},{"i":805,"h":312,"l":287,"v":-129},{"i":806,"h":298,"l":266,"v":-173},{"i":807,"h":286,"l":271,"v":-202},{"i":808,"h":286,"l":231,"v":-240},{"i":809,"h":252,"l":188,"v":-265},
{"i":810,"h":293,"l":202,"v":-283},{"i":811,"h":203,"l":111,"v":-365},{"i":812,"h":180,"l":90,"v":-407},{"i":813,"h":151,"l":88,"v":-395},{"i":814,"h":170,"l":110,"v":-373},{"i":815,"h":196,"l":143,"v":-429},{"i":816,"h":154,"l":66,"v":-478},{"i":817,"h":133,"l":24,"v":-502},{"i":818,"h":144,"l":81,"v":-444},{"i":819,"h":193,"l":108,"v":-417},
{"i":820,"h":177,"l":116,"v":-350},{"i":821,"h":200,"l":161,"v":-347},{"i":822,"h":170,"l":120,"v":-430},{"i":823,"h":133,"l":108,"v":-438},{"i":824,"h":138,"l":109,"v":-357},{"i":825,"h":138,"l":121,"v":-414},{"i":826,"h":131,"l":90,"v":-314},{"i":827,"h":130,"l":90,"v":-268},{"i":828,"h":142,"l":95,"v":-261},{"i":829,"h":170,"l":124,"v":-157},
{"i":830,"h":169,"l":129,"v":-223},{"i":831,"h":129,"l":82,"v":-229},{"i":832,"h":118,"l":82,"v":-266},{"i":833,"h":164,"l":89,"v":-220},{"i":834,"h":185,"l":96,"v":-130},{"i":835,"h":237,"l":149,"v":-46},{"i":836,"h":221,"l":174,"v":-90},{"i":837,"h":235,"l":202,"v":-89},{"i":838,"h":270,"l":163,"v":-22},{"i":839,"h":270,"l":63,"v":-182},
{"i":840,"h":230,"l":85,"v":-237},{"i":841,"h":139,"l":44,"v":-211},{"i":842,"h":185,"l":86,"v":-110},{"i":843,"h":219,"l":166,"v":-88},{"i":844,"h":260,"l":202,"v":-20},{"i":845,"h":231,"l":188,"v":-27},{"i":846,"h":203,"l":171,"v":-35},{"i":847,"h":176,"l":148,"v":31},{"i":848,"h":187,"l":162,"v":66},{"i":849,"h":171,"l":158,"v":41},
{"i":850,"h":169,"l":152,"v":4},{"i":851,"h":185,"l":155,"v":22},{"i":852,"h":166,"l":129,"v":31},{"i":853,"h":216,"l":148,"v":147},{"i":854,"h":216,"l":192,"v":88},{"i":855,"h":206,"l":183,"v":81},{"i":856,"h":224,"l":182,"v":25},{"i":857,"h":206,"l":166,"v":33},{"i":858,"h":287,"l":178,"v":179},{"i":859,"h":330,"l":271,"v":226},
{"i":860,"h":312,"l":223,"v":137},{"i":861,"h":248,"l":180,"v":89},{"i":862,"h":245,"l":190,"v":107},{"i":863,"h":273,"l":174,"v":92},{"i":864,"h":231,"l":146,"v":100}
]},
"encoding":{"x":{"field":"i","type":"quantitative","scale":{"domain":[-0.75,864.25],"nice":false,"zero":false},"axis":null}},
"layer":[
{"mark":{"type":"rule","color":"#11E011","strokeWidth":1},"encoding":{"y":{"field":"h","type":"quantitative","scale":{"domain":[-870.4,767.7],"nice":false,"zero":false},"axis":null},"y2":{"field":"l"}}},
{"mark":{"type":"rule","color":"#F5C814","strokeWidth":1},"encoding":{"y":{"field":"v","type":"quantitative","scale":{"domain":[-870.4,767.7],"nice":false,"zero":false},"axis":null},"y2":{"datum":0}}}
]}
